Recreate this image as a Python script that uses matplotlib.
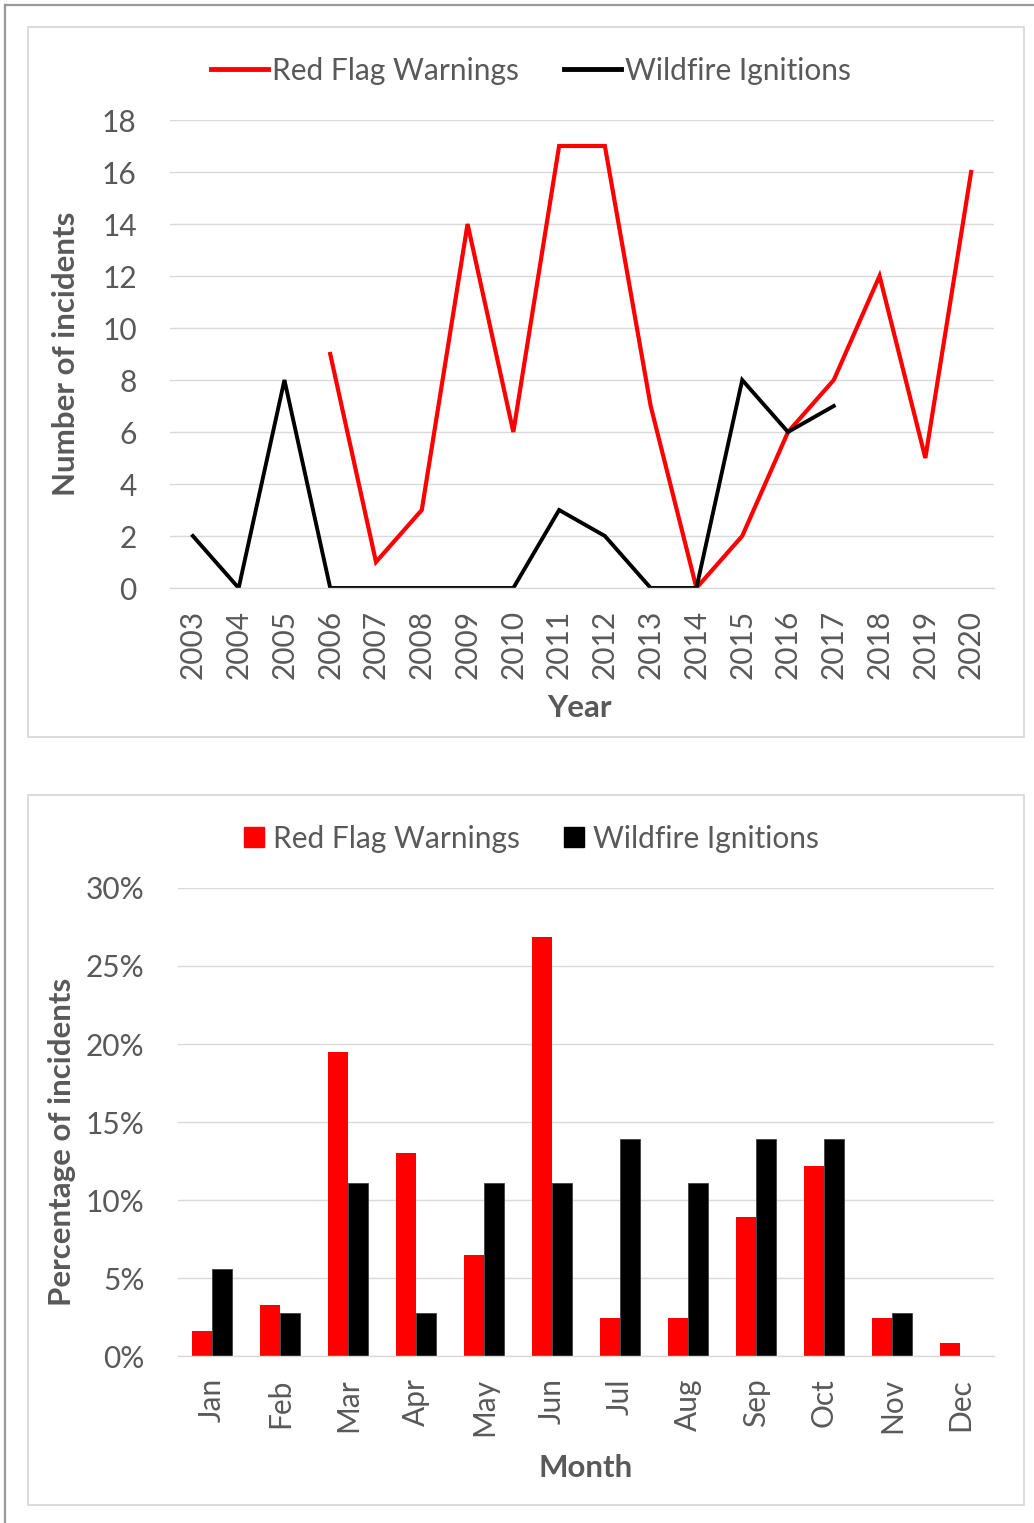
import numpy as np
import matplotlib.pyplot as plt
from matplotlib.patches import Rectangle, Patch
from matplotlib.lines import Line2D
from matplotlib.ticker import FuncFormatter

plt.rcParams['font.family'] = ['Lato', 'DejaVu Sans']

# Data.
years = [str(y) for y in range(2003, 2021)]
red_flag_years = years[3:]          # 2006 - 2020
red_flag_counts = [9, 1, 3, 14, 6, 17, 17, 7, 0, 2, 6, 8, 12, 5, 16]
ignition_years = years[:15]         # 2003 - 2017
ignition_counts = [2, 0, 8, 0, 0, 0, 0, 0, 3, 2, 0, 0, 8, 6, 7]

months = ["Jan", "Feb", "Mar", "Apr", "May", "Jun",
          "Jul", "Aug", "Sep", "Oct", "Nov", "Dec"]
red_flag_month_pct = [1.63, 3.25, 19.51, 13.01, 6.50, 26.83,
                      2.44, 2.44, 8.94, 12.20, 2.44, 0.81]
ignition_month_pct = [5.56, 2.78, 11.11, 2.78, 11.11, 11.11,
                      13.89, 11.11, 13.89, 13.89, 2.78, 0.0]

RED = "#ff0000"
BLACK = "#000000"
TEXT = "#595959"
GRID = "#d9d9d9"
W, H = 1034, 1523
FS = 21.5     # tick / legend text
FSL = 22.5    # axis titles

fig = plt.figure(figsize=(W / 100, H / 100), dpi=100)

# outer frame (top + left edges only) and the two chart boxes
fig.add_artist(Line2D([5 / W, 5 / W], [0, 1 - 5 / H], transform=fig.transFigure, color="#999999", lw=1.6))
fig.add_artist(Line2D([5 / W, 1], [1 - 5 / H, 1 - 5 / H], transform=fig.transFigure, color="#999999", lw=1.6))
for y0, y1 in [(27, 737), (795, 1505)]:
    fig.add_artist(Rectangle((28 / W, 1 - y1 / H), (1024 - 28) / W, (y1 - y0) / H,
                             transform=fig.transFigure, fill=False, edgecolor=GRID, lw=1.3))


def style_axes(ax):
    for s in ["top", "right", "left"]:
        ax.spines[s].set_visible(False)
    ax.spines["bottom"].set_color(GRID)
    ax.spines["bottom"].set_linewidth(1.0)
    ax.grid(axis="y", color=GRID, lw=1.0)
    ax.set_axisbelow(True)
    ax.tick_params(axis="both", length=0, labelsize=FS, labelcolor=TEXT)
    ax.tick_params(axis="y", pad=24)
    ax.tick_params(axis="x", pad=16)


# Top: yearly line chart
ax1 = fig.add_axes([170 / W, 1 - 588 / H, 824 / W, 468 / H])
style_axes(ax1)
x_pos = {y: i for i, y in enumerate(years)}
ax1.plot([x_pos[y] for y in red_flag_years], red_flag_counts, color=RED, lw=3, solid_joinstyle="miter")
ax1.plot([x_pos[y] for y in ignition_years], ignition_counts, color=BLACK, lw=2.8, solid_joinstyle="miter")
ax1.set_xlim(-0.5, len(years) - 0.5)
ax1.set_ylim(0, 18)
ax1.set_yticks(range(0, 19, 2))
ax1.set_xticks(range(len(years)))
ax1.set_xticklabels(years, rotation=90)
ax1.set_xlabel("Year", fontsize=FSL, fontweight="bold", color=TEXT)
ax1.set_ylabel("Number of incidents", fontsize=FSL, fontweight="bold", color=TEXT)
ax1.xaxis.set_label_coords(0.497, -0.226)
ax1.yaxis.set_label_coords(-0.109, 0.5)
h1 = [Line2D([], [], color=RED, lw=3.5), Line2D([], [], color=BLACK, lw=3.5)]
ax1.legend(h1, ["Red Flag Warnings", "Wildfire Ignitions"], loc="center", bbox_to_anchor=(0.438, 1.105),
           ncol=2, frameon=False, fontsize=FS, labelcolor=TEXT, handlelength=1.9,
           handletextpad=0.15, columnspacing=1.5)

# Bottom: monthly bar chart
ax2 = fig.add_axes([178 / W, 1 - 1356 / H, 816 / W, 468 / H])
style_axes(ax2)
xm = np.arange(len(months))
bw = 0.295
ax2.bar(xm - bw / 2, red_flag_month_pct, width=bw, color=RED)
ax2.bar(xm + bw / 2, ignition_month_pct, width=bw, color=BLACK, edgecolor="#404040", lw=0.6)
ax2.set_xlim(-0.5, len(months) - 0.5)
ax2.set_ylim(0, 30)
ax2.set_yticks(range(0, 31, 5))
ax2.yaxis.set_major_formatter(FuncFormatter(lambda v, p: f"{v:.0f}%"))
ax2.set_xticks(xm)
ax2.set_xticklabels(months, rotation=90)
ax2.set_xlabel("Month", fontsize=FSL, fontweight="bold", color=TEXT)
ax2.set_ylabel("Percentage of incidents", fontsize=FSL, fontweight="bold", color=TEXT)
ax2.xaxis.set_label_coords(0.5, -0.209)
ax2.yaxis.set_label_coords(-0.125, 0.457)
h2 = [Patch(color=RED), Patch(color=BLACK)]
ax2.legend(h2, ["Red Flag Warnings", "Wildfire Ignitions"], loc="center", bbox_to_anchor=(0.433, 1.105),
           ncol=2, frameon=False, fontsize=FS, labelcolor=TEXT, handlelength=0.65, handleheight=0.65,
           handletextpad=0.3, columnspacing=1.5)

fig.savefig("out.png", dpi=100)
